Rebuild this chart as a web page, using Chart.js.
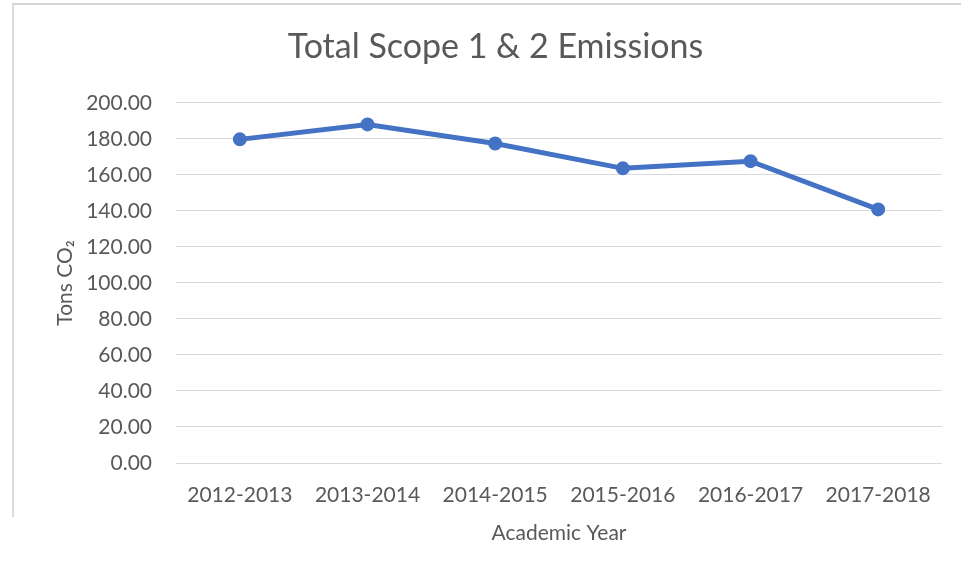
<!DOCTYPE html>
<html lang="en">
<head>
<meta charset="utf-8">
<title>Total Scope 1 &amp; 2 Emissions</title>
<script src="https://cdn.jsdelivr.net/npm/chart.js@4.4.1/dist/chart.umd.min.js"></script>
<style>
    html, body {
        margin: 0;
        padding: 0;
        background: #ffffff;
    }
    .chart-wrap {
        position: relative;
        width: 961px;
        height: 579px;
    }
    /* thin frame around the chart box (top + left edge only are visible) */
    .chart-frame {
        position: absolute;
        left: 12px;
        top: 3px;
        width: 960px;
        height: 512px;
        border-top: 2px solid #d4d4d4;
        border-left: 2px solid #dcdcdc;
        pointer-events: none;
    }
</style>
</head>
<body>
<div class="chart-wrap">
    <canvas id="emissionsChart" width="961" height="579"></canvas>
    <div class="chart-frame"></div>
</div>
<script>
// --- Data ---
const years = ["2012-2013", "2013-2014", "2014-2015", "2015-2016", "2016-2017", "2017-2018"];
const emissions = [179.7, 188.0, 177.4, 163.6, 167.6, 140.8];
const yMin = 0;
const yMax = 200;
const yStep = 20;

const textColor = "#595959";
const gridColor = "#d9d9d9";
const lineBlue = "#4472C4";
const fontFamily = "Lato, 'Open Sans', sans-serif";

document.addEventListener("DOMContentLoaded", () => {
    const ctx = document.getElementById("emissionsChart");
    if (!ctx) return;

    new Chart(ctx, {
        type: "line",
        data: {
            labels: years,
            datasets: [
                {
                    label: "Total Scope 1 & 2 Emissions",
                    data: emissions,
                    borderColor: lineBlue,
                    backgroundColor: lineBlue,
                    borderWidth: 5,
                    pointRadius: 4.5,
                    pointBackgroundColor: lineBlue,
                    pointBorderColor: lineBlue,
                    tension: 0,
                    fill: false,
                },
            ],
        },
        options: {
            responsive: false,
            animation: false,
            layout: {
                padding: { left: 49, right: 19, top: 0, bottom: 29 },
            },
            scales: {
                x: {
                    offset: true,
                    grid: { display: false },
                    border: { display: false },
                    ticks: {
                        color: textColor,
                        padding: 12,
                        font: { family: fontFamily, size: 21 },
                    },
                    title: {
                        display: true,
                        text: "Academic Year",
                        color: textColor,
                        font: { family: fontFamily, size: 21 },
                    },
                    // keep the plot bottom fixed
                    afterFit: (scale) => {
                        scale.height = 87;
                    },
                },
                y: {
                    min: yMin,
                    max: yMax,
                    grid: {
                        color: gridColor,
                        lineWidth: 1,
                        drawTicks: false,
                    },
                    border: { display: false },
                    ticks: {
                        stepSize: yStep,
                        color: textColor,
                        padding: 24,
                        font: { family: fontFamily, size: 21 },
                        callback: (value) => Number(value).toFixed(2),
                    },
                    title: {
                        display: true,
                        text: "Tons CO\u2082",
                        color: textColor,
                        font: { family: fontFamily, size: 21 },
                    },
                    afterFit: (scale) => {
                        scale.width = 127;
                    },
                },
            },
            plugins: {
                title: {
                    display: true,
                    text: "Total Scope 1 & 2 Emissions",
                    color: textColor,
                    font: { family: fontFamily, size: 34, weight: "normal" },
                    padding: { top: 27, bottom: 35 },
                },
                legend: { display: false },
                tooltip: { enabled: false },
            },
        },
    });
});
</script>
</body>
</html>
